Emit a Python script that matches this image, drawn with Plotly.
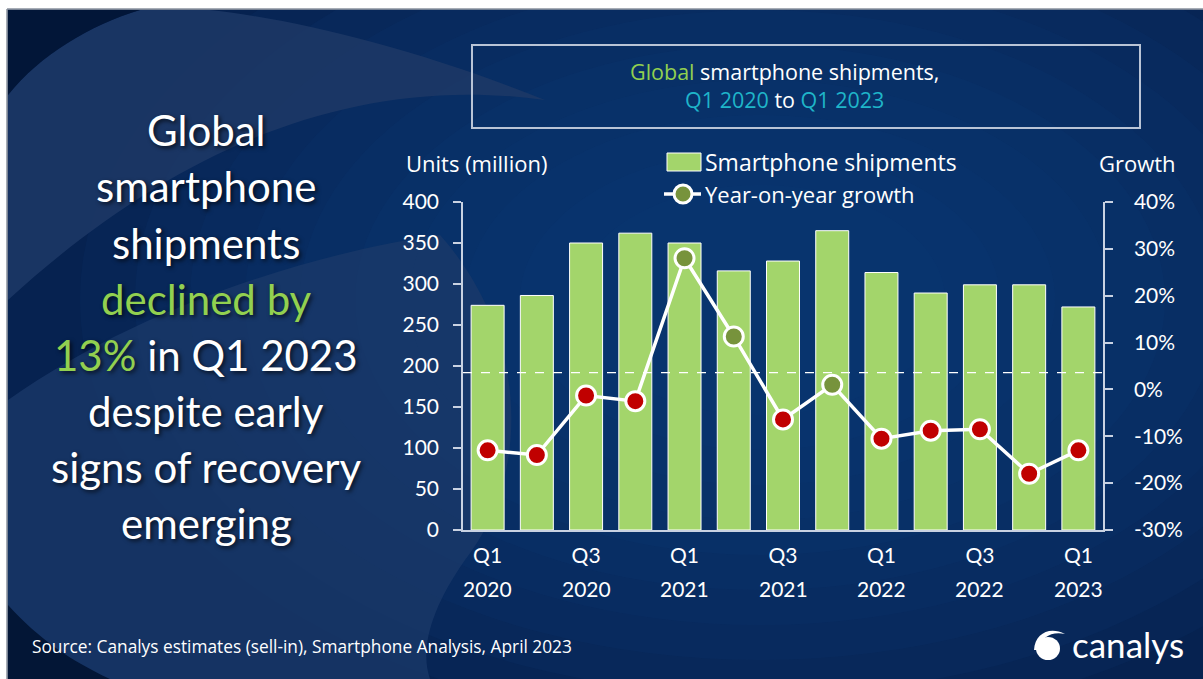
import plotly.graph_objects as go

# ---------------- data ----------------
quarters = ["Q1 2020", "Q2 2020", "Q3 2020", "Q4 2020",
            "Q1 2021", "Q2 2021", "Q3 2021", "Q4 2021",
            "Q1 2022", "Q2 2022", "Q3 2022", "Q4 2022",
            "Q1 2023"]
shipments = [274, 286, 350, 362, 350, 316, 328, 365, 314, 289, 299, 299, 272]
growth = [-13.0, -14.0, -1.3, -2.5, 28.0, 11.3, -6.4, 1.0, -10.5, -8.8, -8.5, -18.0, -13.0]
tick_quarters = ["Q1 2020", "Q3 2020", "Q1 2021", "Q3 2021", "Q1 2022", "Q3 2022", "Q1 2023"]
units_ticks = [0, 50, 100, 150, 200, 250, 300, 350, 400]
growth_ticks = [-30, -20, -10, 0, 10, 20, 30, 40]
growth_tick_text = ["-30%", "-20%", "-10%", "0%", "10%", "20%", "30%", "40%"]
ref_line_growth = 3.6  # dashed reference line as drawn in the original

# ---------------- styling ----------------
W, H = 1203, 679
PL, PR, PT, PB = 463, 1103, 202, 530
FONT = "Lato"
FONT2 = "Open Sans"
BAR_GREEN = "#a3d56b"
TXT_GREEN = "#92d050"
TEAL = "#1fb5c9"
POS_DOT = "#77933c"
NEG_DOT = "#c00000"
AXIS_COL = "#c9d2e2"


def X(px):
    return (px - PL) / (PR - PL)


def Y(py):
    return (PB - py) / (PB - PT)


def P(cmds):
    out = []
    for c in cmds:
        if isinstance(c, str):
            out.append(c)
        else:
            out.append(f"{X(c[0]):.4f},{Y(c[1]):.4f}")
    return " ".join(out)


dot_colors = [POS_DOT if g >= 0 else NEG_DOT for g in growth]

fig = go.Figure()
fig.add_trace(go.Bar(
    x=quarters, y=shipments, name="Smartphone shipments",
    marker=dict(color=BAR_GREEN, line=dict(color="white", width=1)),
    showlegend=False, yaxis="y",
))
fig.add_trace(go.Scatter(
    x=quarters, y=growth, name="Year-on-year growth", yaxis="y2",
    mode="lines+markers",
    line=dict(color="white", width=3.5),
    marker=dict(size=19, color=dot_colors, line=dict(color="white", width=3)),
    showlegend=False,
))

shapes = []
# slide background
shapes.append(dict(type="rect", xref="paper", yref="paper", layer="below",
                   x0=X(7), x1=X(W + 5), y0=Y(9), y1=Y(H + 5),
                   fillcolor="#062250", line=dict(color="#8a929e", width=1)))
# soft radial glow built from many faint ellipses
cx, cy = 760, 300
for k in range(10):
    rx = 680 - k * 55
    ry = 430 - k * 35
    shapes.append(dict(type="circle", xref="paper", yref="paper", layer="below",
                       x0=X(cx - rx), x1=X(cx + rx), y0=Y(cy - ry), y1=Y(cy + ry),
                       fillcolor="#0e3d7c", opacity=0.13, line=dict(width=0)))

# lower-left lighter swoosh
shapes.append(dict(type="path", xref="paper", yref="paper", layer="below",
                   path=P(["M", (8, 400), "C", (150, 300), (330, 250), (440, 235),
                           "C", (525, 330), (535, 470), (465, 560),
                           "C", (430, 610), (420, 650), (430, 679),
                           "L", (8, 679), "Z"]),
                   fillcolor="#1b3a6a", opacity=0.75, line=dict(width=0)))
# upper-left lighter crescent
shapes.append(dict(type="path", xref="paper", yref="paper", layer="below",
                   path=P(["M", (8, 300), "C", (150, 170), (330, 70), (545, 100),
                           "C", (420, 50), (300, 20), (210, 10),
                           "L", (140, 10), "C", (90, 25), (40, 55), (8, 95), "Z"]),
                   fillcolor="#1d3866", opacity=0.85, line=dict(width=0)))
# dark corners
shapes.append(dict(type="path", xref="paper", yref="paper", layer="below",
                   path=P(["M", (8, 10), "L", (140, 10), "C", (90, 25), (40, 55), (8, 95), "Z"]),
                   fillcolor="#021638", line=dict(width=0)))
shapes.append(dict(type="path", xref="paper", yref="paper", layer="below",
                   path=P(["M", (8, 605), "C", (40, 640), (70, 660), (110, 679), "L", (8, 679), "Z"]),
                   fillcolor="#031636", line=dict(width=0)))
# white page border (top / left)
shapes.append(dict(type="rect", xref="paper", yref="paper", layer="below",
                   x0=X(-5), x1=X(W + 5), y0=Y(-5), y1=Y(9),
                   fillcolor="white", line=dict(width=0)))
shapes.append(dict(type="rect", xref="paper", yref="paper", layer="below",
                   x0=X(-5), x1=X(7), y0=Y(-5), y1=Y(H + 5),
                   fillcolor="white", line=dict(width=0)))
shapes.append(dict(type="line", xref="paper", yref="paper", layer="below",
                   x0=X(7), x1=X(7), y0=Y(9), y1=Y(H + 5),
                   line=dict(color="#8a929e", width=1.5)))
shapes.append(dict(type="line", xref="paper", yref="paper", layer="below",
                   x0=X(7), x1=X(W + 5), y0=Y(9), y1=Y(9),
                   line=dict(color="#8a929e", width=1.5)))

# title box
shapes.append(dict(type="rect", xref="paper", yref="paper",
                   x0=X(472), x1=X(1140), y0=Y(45), y1=Y(128),
                   line=dict(color="#b9c4d6", width=2), fillcolor="rgba(0,0,0,0)"))
# dashed reference line
shapes.append(dict(type="line", xref="paper", yref="y2", x0=0, x1=1,
                   y0=ref_line_growth, y1=ref_line_growth,
                   line=dict(color="white", width=1.2, dash="dash")))
# legend swatches
shapes.append(dict(type="rect", xref="paper", yref="paper",
                   x0=X(667), x1=X(701), y0=Y(171), y1=Y(153),
                   fillcolor=BAR_GREEN, line=dict(color="white", width=1)))
shapes.append(dict(type="line", xref="paper", yref="paper",
                   x0=X(664), x1=X(701), y0=Y(194), y1=Y(194),
                   line=dict(color="white", width=3.5)))
shapes.append(dict(type="circle", xref="paper", yref="paper",
                   x0=X(674), x1=X(692), y0=Y(185), y1=Y(203),
                   fillcolor=POS_DOT, line=dict(color="white", width=3)))
# canalys logo mark
shapes.append(dict(type="circle", xref="paper", yref="paper",
                   x0=X(1036), x1=X(1060), y0=Y(637), y1=Y(660),
                   fillcolor="white", line=dict(width=0)))
shapes.append(dict(type="path", xref="paper", yref="paper",
                   path=P(["M", (1034, 650), "C", (1035, 633), (1050, 626), (1065, 634),
                           "C", (1052, 631), (1041, 637), (1038, 650), "Z"]),
                   fillcolor="white", line=dict(width=0)))

shadow = "2px 2px 4px rgba(0,0,0,0.7)"
ann = []
left_lines = [
    ("Global", 130),
    ("smartphone", 186),
    ("shipments", 243),
    (f"<span style='color:{TXT_GREEN}'>declined by</span>", 299),
    (f"<span style='color:{TXT_GREEN}'>13%</span> in Q1 2023", 355),
    ("despite early", 411),
    ("signs of recovery", 467),
    ("emerging", 523),
]
for txt, py in left_lines:
    ann.append(dict(text=txt, xref="paper", yref="paper", x=X(206), y=Y(py),
                    xanchor="center", yanchor="middle", showarrow=False,
                    font=dict(family=FONT, size=42, color="white", shadow=shadow)))

ann.append(dict(text=(f"<span style='color:{TXT_GREEN}'>Global</span> smartphone shipments,<br>"
                      f"<span style='color:{TEAL}'>Q1 2020</span> to "
                      f"<span style='color:{TEAL}'>Q1 2023</span>"),
                xref="paper", yref="paper", x=X(784), y=Y(86), showarrow=False,
                xanchor="center", yanchor="middle", align="center",
                font=dict(family=FONT2, size=21.5, color="white")))
ann.append(dict(text="Units (million)", xref="paper", yref="paper", x=X(404), y=Y(163),
                xanchor="left", yanchor="middle", showarrow=False,
                font=dict(family=FONT2, size=22, color="white")))
ann.append(dict(text="Growth", xref="paper", yref="paper", x=X(1178), y=Y(163),
                xanchor="right", yanchor="middle", showarrow=False,
                font=dict(family=FONT2, size=22, color="white")))
ann.append(dict(text="Smartphone shipments", xref="paper", yref="paper", x=X(703), y=Y(162),
                xanchor="left", yanchor="middle", showarrow=False,
                font=dict(family=FONT2, size=23, color="white")))
ann.append(dict(text="Year-on-year growth", xref="paper", yref="paper", x=X(703), y=Y(194),
                xanchor="left", yanchor="middle", showarrow=False,
                font=dict(family=FONT2, size=22, color="white")))
# x-axis year line
for q in tick_quarters:
    ann.append(dict(text=q.split(" ")[1], xref="x", yref="paper", x=q, y=Y(588),
                    xanchor="center", yanchor="middle", showarrow=False,
                    font=dict(family=FONT, size=21, color="white")))
ann.append(dict(text="Source: Canalys estimates (sell-in), Smartphone Analysis, April 2023",
                xref="paper", yref="paper", x=X(30), y=Y(646), xanchor="left", yanchor="middle",
                showarrow=False, font=dict(family=FONT2, size=17.3, color="white")))
ann.append(dict(text="canalys", xref="paper", yref="paper", x=X(1070), y=Y(644),
                xanchor="left", yanchor="middle", showarrow=False,
                font=dict(family=FONT, size=35, color="white")))

fig.update_layout(
    width=W, height=H,
    margin=dict(l=PL, r=W - PR, t=PT, b=H - PB, pad=0),
    paper_bgcolor="white", plot_bgcolor="rgba(0,0,0,0)",
    bargap=0.33,
    shapes=shapes, annotations=ann,
    font=dict(family=FONT, color="white"),
    xaxis=dict(type="category", categoryorder="array", categoryarray=quarters,
               range=[-0.5, len(quarters) - 0.5],
               tickmode="array", tickvals=tick_quarters,
               ticktext=[q.split(" ")[0] for q in tick_quarters],
               showline=True, linecolor=AXIS_COL, linewidth=1.5,
               ticks="", showgrid=False, zeroline=False,
               tickfont=dict(family=FONT, size=21, color="white"),
               ticklabelstandoff=6),
    yaxis=dict(range=[0, 400], tickmode="array", tickvals=units_ticks,
               showgrid=False, zeroline=False,
               showline=True, linecolor=AXIS_COL, linewidth=1.5,
               ticks="outside", ticklen=8, tickcolor=AXIS_COL, tickwidth=1.5,
               tickfont=dict(family=FONT, size=21, color="white"),
               ticklabelstandoff=10),
    yaxis2=dict(range=[-30, 40], tickmode="array", tickvals=growth_ticks,
                ticktext=growth_tick_text, overlaying="y", side="right",
                showgrid=False, zeroline=False,
                showline=True, linecolor=AXIS_COL, linewidth=1.5,
                ticks="outside", ticklen=8, tickcolor=AXIS_COL, tickwidth=1.5,
                tickfont=dict(family=FONT, size=21, color="white"),
                ticklabelstandoff=17),
)

fig.write_html("out.html")
